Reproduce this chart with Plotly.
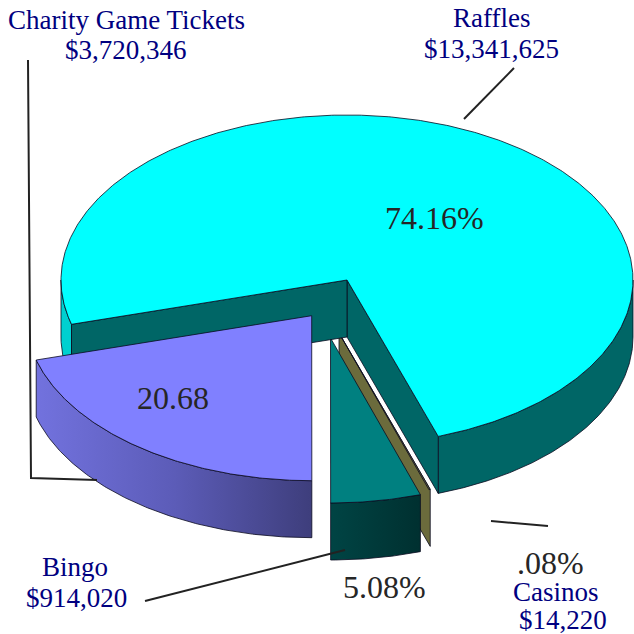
import numpy as np
import plotly.graph_objects as go

# Data, in drawing order round the pie (counter-clockwise from the Raffles start)
categories = ["Raffles", "Charity Game Tickets", "Bingo", "Casinos"]
amounts = [13341625, 3720346, 914020, 14220]
percent_labels = ["74.16%", "20.68", "5.08%", ".08%"]
amount_labels = ["$13,341,625", "$3,720,346", "$914,020", "$14,220"]

# Projection of the pie
RX, RY, DEPTH = 286.0, 165.0, 57.0
START_DEG = 288.6
centers = {
    "Raffles": (347.0, 280.0),
    "Charity Game Tickets": (311.7, 315.7),
    "Bingo": (330.5, 338.0),
    "Casinos": (339.0, 333.0),
}
OUTLINE = dict(color="#0A0A20", width=0.8)

total = sum(amounts)
sweeps = [a / total * 360.0 for a in amounts]
starts = START_DEG + np.concatenate([[0.0], np.cumsum(sweeps)[:-1]])
angles = {c: (s, s + w) for c, s, w in zip(categories, starts, sweeps)}


def arc(center, t0, t1, dy=0.0):
    n = max(2, int(abs(t1 - t0) * 2) + 2)
    t = np.radians(np.linspace(t0, t1, n))
    return center[0] + RX * np.cos(t), center[1] - RY * np.sin(t) + dy


def poly(fig, xs, ys, color=None, gradient=None, line=OUTLINE):
    xs = np.r_[xs, xs[0]]
    ys = np.r_[ys, ys[0]]
    kw = dict(fillgradient=gradient) if gradient else dict(fillcolor=color)
    fig.add_trace(go.Scatter(x=xs, y=ys, mode="lines", fill="toself", line=line,
                             hoverinfo="skip", showlegend=False, **kw))


def top(fig, cat, color):
    c = centers[cat]
    x, y = arc(c, *angles[cat])
    poly(fig, np.r_[c[0], x], np.r_[c[1], y], color)


def outer_wall(fig, cat, t0, t1, color=None, gradient=None):
    c = centers[cat]
    x, y = arc(c, t0, t1)
    xb, yb = arc(c, t0, t1, DEPTH)
    poly(fig, np.r_[x, xb[::-1]], np.r_[y, yb[::-1]], color, gradient)


def cut_wall(fig, cat, deg, color):
    c = centers[cat]
    x, y = arc(c, deg, deg)
    xe, ye = x[0], y[0]
    poly(fig, np.array([c[0], xe, xe, c[0]]),
         np.array([c[1], ye, ye + DEPTH, c[1] + DEPTH]), color)


def hgrad(start, stop, stops):
    return dict(type="horizontal", start=start, stop=stop, colorscale=stops)


fig = go.Figure()

# Casinos sliver (sits behind the Raffles cut wall)
s0, s1 = angles["Casinos"]
cut_wall(fig, "Casinos", s1, "#6B6B3C")
top(fig, "Casinos", "#6B6B3C")

# Bingo wedge
b0, b1 = angles["Bingo"]
outer_wall(fig, "Bingo", b0, b1, gradient=hgrad(331, 420, [[0, "#004444"], [1, "#003030"]]))
top(fig, "Bingo", "#008080")

# Raffles
r0, r1 = angles["Raffles"]
outer_wall(fig, "Raffles", r0, 360, "#006666")
outer_wall(fig, "Raffles", 540, r1, "#00D0D0")
cut_wall(fig, "Raffles", r0, "#006666")
cut_wall(fig, "Raffles", r1, "#006666")
top(fig, "Raffles", "#00FFFF")

# Charity Game Tickets wedge
g0, g1 = angles["Charity Game Tickets"]
outer_wall(fig, "Charity Game Tickets", g0, g1,
           gradient=hgrad(36, 312, [[0, "#7272DE"], [0.5, "#5C5CB8"], [1, "#3E3E7C"]]))
top(fig, "Charity Game Tickets", "#8080FF")

# Leader lines
leaders = [
    ([28, 31, 97], [60, 478, 480]),
    ([514, 464], [68, 119]),
    ([145, 345], [601, 550]),
    ([491, 548], [521, 526]),
]
for lx, ly in leaders:
    fig.add_trace(go.Scatter(x=lx, y=ly, mode="lines", line=dict(color="#222222", width=2),
                             hoverinfo="skip", showlegend=False))

FONT = "Liberation Serif"
NAVY = "#000080"
INK = "#262626"
texts = [
    (categories[1], 126, 20, NAVY, 27),
    (amount_labels[1], 126, 50, NAVY, 27),
    (categories[0], 491, 18, NAVY, 27),
    (amount_labels[0], 491, 49, NAVY, 27),
    (percent_labels[0], 434, 218, INK, 32),
    (percent_labels[1], 173, 398, INK, 32),
    ("Bingo", 75, 567, NAVY, 27),
    (amount_labels[2], 76, 598, NAVY, 27),
    (percent_labels[2], 384, 587, INK, 32),
    (percent_labels[3], 550, 563, INK, 32),
    (categories[3], 556, 592, NAVY, 27),
    (amount_labels[3], 563, 620, NAVY, 27),
]
for s, x, y, col, size in texts:
    fig.add_annotation(x=x, y=y, text=s, showarrow=False, xanchor="center", yanchor="middle",
                       font=dict(family=FONT, size=size, color=col))

fig.update_layout(
    width=634, height=634, margin=dict(l=0, r=0, t=0, b=0),
    paper_bgcolor="white", plot_bgcolor="white", showlegend=False,
    xaxis=dict(range=[0, 634], visible=False, fixedrange=True),
    yaxis=dict(range=[634, 0], visible=False, fixedrange=True),
)
fig.write_html("out.html", config=dict(displayModeBar=False),
               post_script="document.body.style.margin='0';document.documentElement.style.overflow='hidden';")
